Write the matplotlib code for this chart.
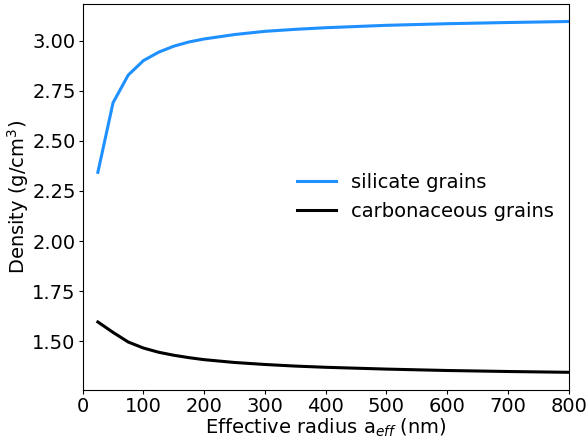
import matplotlib
matplotlib.use("Agg")
import matplotlib.pyplot as plt

radius_nm = [25, 50, 75, 100, 125, 150, 175, 200, 250, 300, 350, 400, 500, 600, 700, 800]
silicate_density = [2.343, 2.690, 2.828, 2.900, 2.942, 2.972, 2.993, 3.008, 3.030, 3.046, 3.056, 3.064, 3.076, 3.084, 3.090, 3.095]
carbon_density = [1.597, 1.545, 1.497, 1.467, 1.446, 1.431, 1.419, 1.409, 1.395, 1.385, 1.377, 1.371, 1.362, 1.355, 1.350, 1.346]

plt.rcParams['font.family'] = ['DejaVu Sans']
fig = plt.figure(figsize=(5.88, 4.41), dpi=100)
ax = fig.add_axes([0.1406, 0.116, 0.8265, 0.875])

ax.plot(radius_nm, silicate_density, color='#1e90ff', lw=2.2, label='silicate grains')
ax.plot(radius_nm, carbon_density, color='black', lw=2.2, label='carbonaceous grains')

ax.set_xlim(0, 800)
ax.set_xlabel(r'Effective radius a$_{eff}$ (nm)', fontsize=14, labelpad=1)
ax.set_ylabel(r'Density (g/cm$^3$)', fontsize=14, labelpad=1)
ax.tick_params(labelsize=14, length=2.6, pad=2.4)
for s in ax.spines.values():
    s.set_linewidth(0.8)
ax.legend(loc='center left', bbox_to_anchor=(0.405, 0.50), frameon=False, fontsize=14,
          handlelength=2.0, handletextpad=0.8, labelspacing=0.5)

fig.savefig('out.png', dpi=100)
